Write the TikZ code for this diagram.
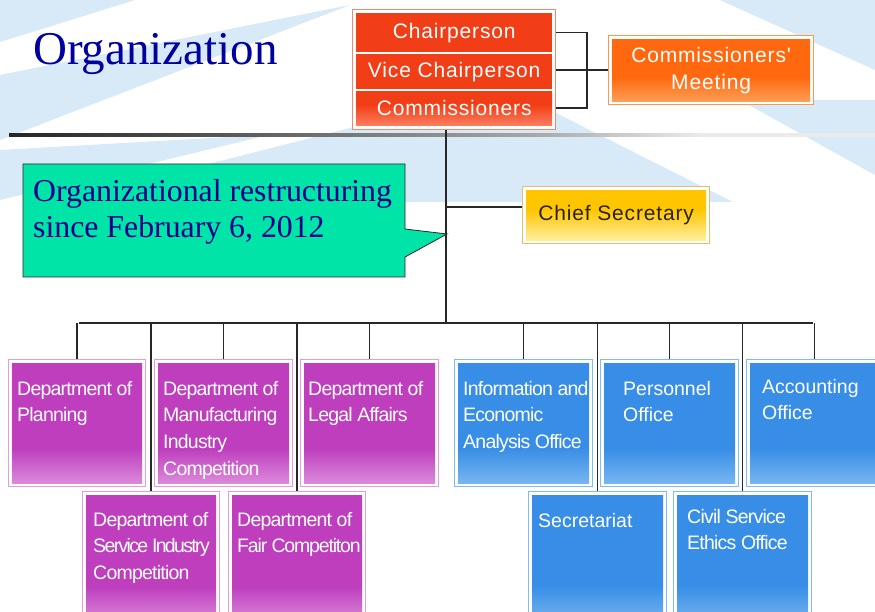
\documentclass[tikz,border=0pt]{standalone}
\usepackage{fontspec}
\setmainfont{Liberation Serif}
\newfontfamily\arf{Liberation Sans}
\newfontfamily\arcf[LetterSpace=-4]{Liberation Sans}
\newfontfamily\arff[LetterSpace=-6]{Liberation Sans}
\newfontfamily\arsf[LetterSpace=-8.5]{Liberation Sans}
\newfontfamily\arwf[LetterSpace=4]{Liberation Sans}
\usetikzlibrary{calc}
\definecolor{bgB}{RGB}{216,233,247}
\definecolor{lineC}{RGB}{40,40,40}
\definecolor{titleB}{RGB}{0,0,160}
\definecolor{calloutG}{RGB}{0,228,168}
\definecolor{redC}{RGB}{242,62,22}
\definecolor{redL}{RGB}{250,125,95}
\definecolor{redB}{RGB}{245,135,105}
\definecolor{oraC}{RGB}{255,104,14}
\definecolor{oraL}{RGB}{255,165,95}
\definecolor{oraB}{RGB}{255,150,80}
\definecolor{golC}{RGB}{255,198,0}
\definecolor{golL}{RGB}{255,242,175}
\definecolor{golB}{RGB}{228,192,100}
\definecolor{magC}{RGB}{190,62,190}
\definecolor{magL}{RGB}{222,145,222}
\definecolor{magB}{RGB}{228,155,228}
\definecolor{bluC}{RGB}{56,142,230}
\definecolor{bluL}{RGB}{125,185,242}
\definecolor{bluB}{RGB}{125,188,245}
\pgfdeclareverticalshading{magsh}{100bp}{color(0bp)=(magL); color(25bp)=(magL); color(40bp)=(magC); color(100bp)=(magC)}
\pgfdeclareverticalshading{blush}{100bp}{color(0bp)=(bluL); color(25bp)=(bluL); color(40bp)=(bluC); color(100bp)=(bluC)}
\pgfdeclareverticalshading{orash}{100bp}{color(0bp)=(oraL); color(25bp)=(oraL); color(45bp)=(oraC); color(100bp)=(oraC)}
\pgfdeclareverticalshading{golsh}{100bp}{color(0bp)=(golL); color(25bp)=(golL); color(55bp)=(golC); color(100bp)=(golC)}
\pgfdeclareverticalshading{redsh}{100bp}{color(0bp)=(redL); color(25bp)=(redL); color(55bp)=(redC); color(100bp)=(redC)}
\pgfdeclarehorizontalshading{rulesh}{100bp}{color(0bp)=(black!85); color(25bp)=(black!85); color(35bp)=(black!70); color(55bp)=(black!35); color(65bp)=(black!8); color(100bp)=(black!8)}
\tikzset{
  conn/.style={draw=lineC, line width=1.4pt},
  framebox/.style 2 args={draw=#1, line width=1.2pt, fill=white, inner sep=0pt, anchor=north west,
    path picture={\shade[shading=#2] ($(path picture bounding box.north west)+(3.5pt,-3.5pt)$) rectangle ($(path picture bounding box.south east)+(-3.5pt,3.5pt)$);}},
  rowbox/.style={inner sep=0pt, anchor=north west, minimum width=196pt, text=white, font=\arwf\fontsize{21}{24}\selectfont},
  txtC/.style={anchor=north west, inner sep=0pt, align=left, text=white, font=\arcf\fontsize{19.5}{26.7}\selectfont},
  txtN/.style={anchor=north west, inner sep=0pt, align=left, text=white, font=\arf\fontsize{19.5}{26.7}\selectfont},
}
\newcommand{\boxtext}[5]{\node[#4] (#1-t) at ([xshift=#2pt, yshift=-#3pt]#1.north west) {\rule{0pt}{15pt}#5};}
\begin{document}
\begin{tikzpicture}[x=1pt,y=-1pt]
\clip (0,0) rectangle (875,612);
\fill[white] (0,0) rectangle (875,612);
% background stripes (header area)
\fill[bgB] (0,0) -- (135,0) -- (0,42) -- cycle;
\fill[bgB] (350,5) -- (0,75) -- (0,140) -- cycle;
\fill[bgB] (60,202) -- (440,105) -- (530,100) -- (733,202) -- cycle;
\fill[bgB] (0,150) -- (230,137) -- (260,137) -- (0,200) -- cycle;
\fill[bgB] (720,0) -- (875,0) -- (875,70) -- cycle;
\fill[bgB] (740,100) -- (875,100) -- (875,175) -- cycle;
% title
\node[anchor=base west, inner sep=0pt, text=titleB, font=\fontsize{47}{50}\selectfont] (title) at (33,65) {Organization};
% rule
\shade[shading=rulesh] (9,133.5) rectangle (875,136.5);
% top box
\node[draw=redB, line width=1.2pt, fill=white, inner sep=0pt, anchor=north west, minimum width=203pt, minimum height=120pt] (top) at (352,9) {};
\node[rowbox, fill=redC, minimum height=39pt] (chair) at (356,13) {Chairperson};
\node[rowbox, fill=redC, minimum height=35pt] (vice) at (356,54) {Vice Chairperson};
\node[rowbox, shading=redsh, minimum height=34pt] (comm) at (356,91) {Commissioners};
% commissioners' meeting
\node[framebox={oraB}{orash}, minimum width=205pt, minimum height=69pt, align=center, text=white, font=\arwf\fontsize{21}{27}\selectfont] (meet) at (608,35) {Commissioners'\\Meeting};
% chief secretary
\node[framebox={golB}{golsh}, minimum width=187pt, minimum height=57pt, text={rgb,255:red,45;green,35;blue,10}, font=\arwf\fontsize{21}{24}\selectfont] (chief) at (522,186) {Chief Secretary};
% callout
\draw[fill=calloutG, draw=lineC, line width=0.8pt] (23,164) -- (405,164) -- (405,229) -- (447,234) -- (405,257) -- (405,277) -- (23,277) -- cycle;
\node[anchor=base west, inner sep=0pt, text={rgb,255:red,0;green,0;blue,140}, font=\fontsize{31.8}{36}\selectfont] (call1) at (33,202) {Organizational restructuring};
\node[anchor=base west, inner sep=0pt, text={rgb,255:red,0;green,0;blue,140}, font=\fontsize{31.8}{36}\selectfont] (call2) at (33,238) {since February 6, 2012};
% department boxes, top row
\node[framebox={magB}{magsh}, minimum width=137pt, minimum height=127pt] (plan) at (8,359) {};
\node[framebox={magB}{magsh}, minimum width=138pt, minimum height=127pt] (manu) at (154,359) {};
\node[framebox={magB}{magsh}, minimum width=138pt, minimum height=127pt] (legal) at (300,359) {};
\node[framebox={bluB}{blush}, minimum width=138pt, minimum height=127pt] (info) at (454,359) {};
\node[framebox={bluB}{blush}, minimum width=138pt, minimum height=127pt] (pers) at (600,359) {};
\node[framebox={bluB}{blush}, minimum width=136pt, minimum height=127pt] (acct) at (746,359) {};
% bottom row
\node[framebox={magB}{magsh}, minimum width=137pt, minimum height=135pt] (serv) at (82,491) {};
\node[framebox={magB}{magsh}, minimum width=137pt, minimum height=135pt] (fair) at (228,491) {};
\node[framebox={bluB}{blush}, minimum width=138pt, minimum height=135pt] (secr) at (528,491) {};
\node[framebox={bluB}{blush}, minimum width=138pt, minimum height=135pt] (civil) at (673,491) {};
% texts
\boxtext{plan}{9}{21}{txtC}{Department of\\Planning}
\boxtext{manu}{9}{21}{txtC}{Department of\\Manufacturing\\Industry\\Competition}
\boxtext{legal}{8}{21}{txtC}{Department of\\Legal Affairs}
\boxtext{info}{9}{21}{txtC}{Information and\\Economic\\Analysis Office}
\boxtext{pers}{23}{21}{txtN}{Personnel\\Office}
\boxtext{acct}{16}{19}{txtN}{Accounting\\Office}
\boxtext{serv}{11}{20}{txtC}{Department of\\{\arsf Service Industry}\\Competition}
\boxtext{fair}{9}{20}{txtC}{Department of\\{\arff Fair Competiton}}
\boxtext{secr}{10}{21}{txtN}{Secretariat}
\boxtext{civil}{14}{17}{txtC}{Civil Service\\Ethics Office}
% connectors
\coordinate (brk) at (587,70);
\coordinate (trunk) at (446,323);
\coordinate (busL) at (79,323);
\coordinate (busR) at (813,323);
\coordinate (cs) at (446,207);
\draw[conn] (top.east |- chair.east) -| (brk) |- (top.east |- comm.east);
\draw[conn] (meet.west -| top.east) -- (meet.west);
\draw[conn] (top.south -| trunk) -- (trunk);
\draw[conn] (cs) -- (cs -| chief.west);
\draw[conn] (busL) -- (busR);
\foreach \b in {plan,manu,legal,info,pers,acct,serv,fair,secr,civil}{
  \draw[conn] (\b.north) -- (\b.north |- busL);
}
\end{tikzpicture}
\end{document}
